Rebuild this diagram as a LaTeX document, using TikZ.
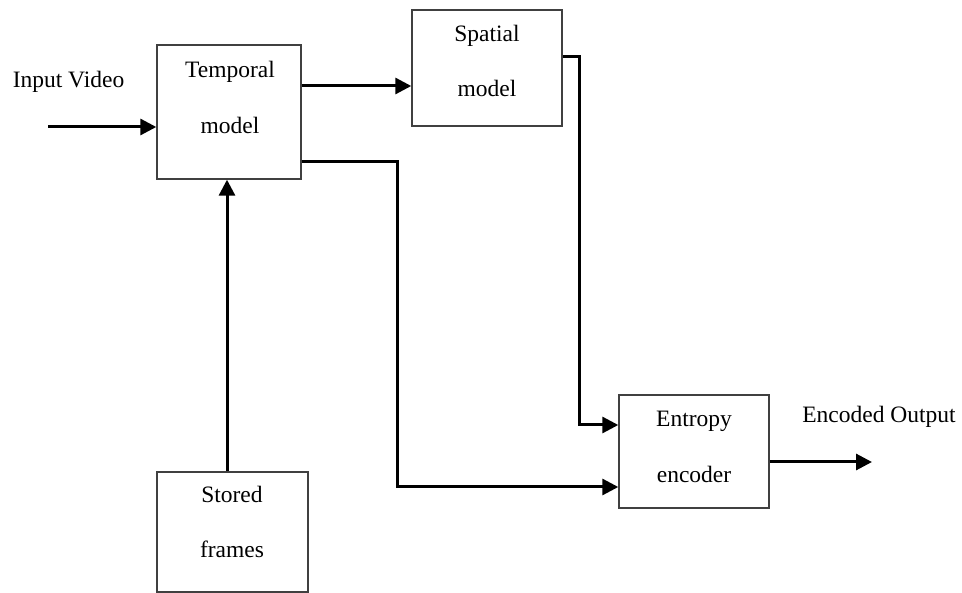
\documentclass[tikz,border=0pt]{standalone}
\usepackage{fontspec}
\setmainfont{Liberation Serif}
\usetikzlibrary{arrows.meta}

\tikzset{
  block/.style={draw=black!75, line width=1.4pt, fill=none, inner sep=0pt},
  lbl/.style={inner sep=0pt, anchor=base, font=\fontsize{23.5}{28}\selectfont},
  flow/.style={line width=3pt, -{Triangle[length=16pt,width=16pt]}}
}

\begin{document}
\begin{tikzpicture}[x=1pt,y=-1pt]
  \useasboundingbox (0,0) rectangle (962,593);

  % blocks
  \node[block, minimum width=144pt, minimum height=134pt] (tm) at (229,112) {};
  \node[block, minimum width=150pt, minimum height=116pt] (sp) at (487,68) {};
  \node[block, minimum width=150pt, minimum height=113pt] (en) at (694,451.5) {};
  \node[block, minimum width=151pt, minimum height=120pt] (sf) at (232.5,532) {};

  % block texts
  \node[lbl] (tm1) at (230,78) {Temporal};
  \node[lbl] (tm2) at (230,134) {model};
  \node[lbl] (sp1) at (487,42) {Spatial};
  \node[lbl] (sp2) at (487,97) {model};
  \node[lbl] (en1) at (694,427) {Entropy};
  \node[lbl] (en2) at (694,483) {encoder};
  \node[lbl] (sf1) at (232,503) {Stored};
  \node[lbl] (sf2) at (232,558) {frames};

  % outside labels
  \node[lbl] (inl) at (68.5,88) {Input Video};
  \node[lbl] (outl) at (879,423) {Encoded Output};

  % free ends
  \coordinate (inS) at (48,127);
  \coordinate (outE) at (872,462);

  % connectors
  \draw[flow] (inS) -- (tm.west |- inS);
  \draw[flow] (tm.east |- 0,86) -- (sp.west |- 0,86);
  \draw[flow] (sp.east |- 0,57) -| (579,425) -- (en.west |- 0,425);
  \draw[flow] (tm.east |- 0,162) -| (397,487) -- (en.west |- 0,487);
  \draw[flow] (sf.north -| 227,0) -- (tm.south -| 227,0);
  \draw[flow] (en.east |- outE) -- (outE);
\end{tikzpicture}
\end{document}
